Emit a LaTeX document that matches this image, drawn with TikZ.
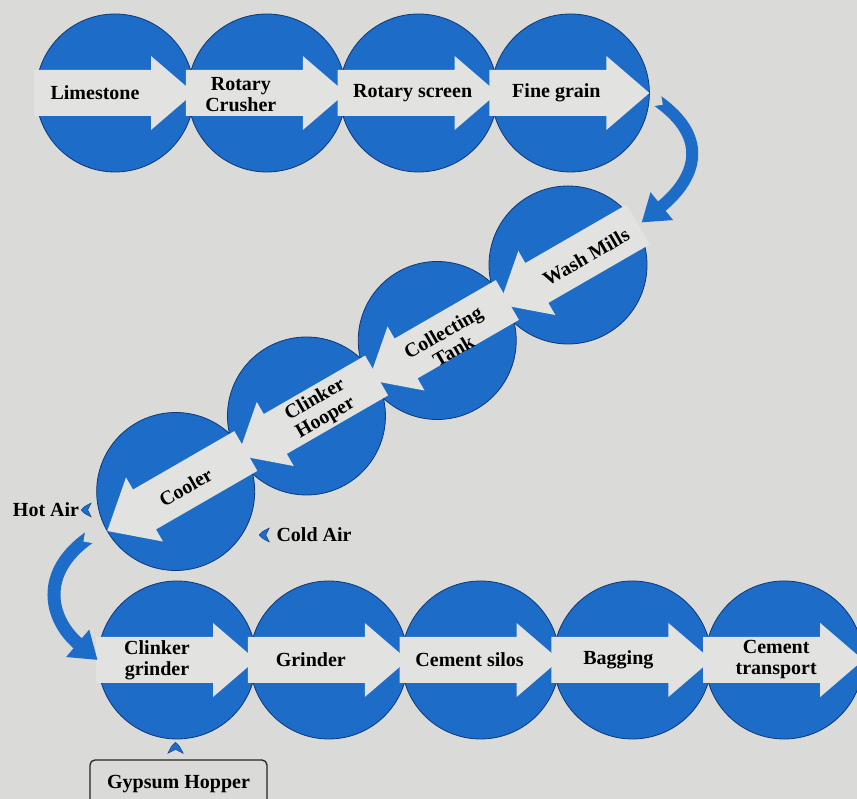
\documentclass[tikz,border=0pt]{standalone}
\usepackage{fontspec}
\setmainfont{Liberation Serif}
\usepackage{tikz}
\usetikzlibrary{arrows.meta,positioning,calc}

\definecolor{cblue}{RGB}{28,108,200}
\definecolor{cdark}{RGB}{14,56,120}
\definecolor{paper}{RGB}{218,218,216}
\definecolor{bandgray}{RGB}{226,226,224}

\newcommand{\stagefont}{\fontsize{20}{21}\selectfont\bfseries}

\tikzset{
  stage/.style={circle,fill=cblue,draw=cdark,line width=0.8pt,minimum size=158pt,inner sep=0pt},
  lbl/.style={font=\stagefont,align=center,inner sep=1pt},
  bendarrow/.style={draw=cblue,line width=12pt,-{Triangle[width=34pt,length=26pt]}},
  pics/flow/.style={code={
    \fill[bandgray] (-81,-23) -- (36,-23) -- (36,-37) -- (79,0) -- (36,37) -- (36,23) -- (-81,23) -- cycle;
  }},
  pics/chevron/.style={code={
    \fill[cblue,draw=cdark,line width=0.4pt] (0,0) .. controls (3,3.5) .. (10,7) -- (6.5,0) -- (10,-7) .. controls (3,-3.5) .. cycle;
  }},
}

\begin{document}
\begin{tikzpicture}[x=1pt,y=1pt]
    \useasboundingbox (0,0) rectangle (857,799);
    \clip (0,0) rectangle (857,799);
    \fill[paper] (0,0) rectangle (857,799);

    % top row
    \node[stage] (lime) at (115,706) {};
    \node[stage] (crush) [right=-7pt of lime] {};
    \node[stage] (screen) [right=-7pt of crush] {};
    \node[stage] (fine) [right=-7pt of screen] {};

    % diagonal
    \node[stage] (wash) at (568,534) {};
    \node[stage] (tank) at ($(wash)+(210:151)$) {};
    \node[stage] (hopper) at ($(tank)+(210:151)$) {};
    \node[stage] (cooler) at ($(hopper)+(210:151)$) {};

    % bottom row
    \node[stage] (cgrind) at (177,139) {};
    \node[stage] (grind) [right=-7pt of cgrind] {};
    \node[stage] (silos) [right=-7pt of grind] {};
    \node[stage] (bag) [right=-7pt of silos] {};
    \node[stage] (trans) [right=-7pt of bag] {};

    % arrows in the circles
    \foreach \n in {lime,crush,screen,fine,cgrind,grind,silos,bag,trans}
        \pic at (\n) {flow};
    \foreach \n in {wash,tank,hopper,cooler}
        \pic[rotate=210] at (\n) {flow};

    % labels
    \node[lbl] (tlime) at ($(lime)+(-20,0)$) {Limestone};
    \node[lbl] (tcrush) at ($(crush)+(-26,-2)$) {Rotary\\Crusher};
    \node[lbl] (tscreen) at ($(screen)+(-6,0)$) {Rotary screen};
    \node[lbl] (tfine) at ($(fine)+(-14,0)$) {Fine grain};
    \node[lbl,rotate=30] (twash) at ($(wash)+(18,8)$) {Wash Mills};
    \node[lbl,rotate=30] (ttank) at ($(tank)+(11,-1)$) {Collecting\\Tank};
    \node[lbl,rotate=30] (thopper) at ($(hopper)+(14,7)$) {Clinker\\Hooper};
    \node[lbl,rotate=30] (tcooler) at ($(cooler)+(10,4)$) {Cooler};
    \node[lbl] (tcgrind) at ($(cgrind)+(-20,0)$) {Clinker\\grinder};
    \node[lbl] (tgrind) at ($(grind)+(-18,0)$) {Grinder};
    \node[lbl] (tsilos) at ($(silos)+(-11,0)$) {Cement silos};
    \node[lbl] (tbag) at ($(bag)+(-14,0)$) {Bagging};
    \node[lbl] (ttrans) at ($(trans)+(-8,0)$) {Cement\\transport};

    % bends between the rows
    \coordinate (b1s) at ($(fine)+(-5:87)$);
    \coordinate (b1e) at ($(wash)+(30:85)$);
    \draw[bendarrow] (b1s) to[out=-35,in=39,looseness=1.4] (b1e);
    \fill[paper] ($(b1s)+(-35:7)$) -- ($(b1s)+(55:9)+(145:2)$) -- ($(b1s)+(-125:9)+(145:2)$) -- cycle;

    \coordinate (b2s) at ($(cooler)+(208:98)$);
    \coordinate (b2e) at (cgrind.west);
    \draw[bendarrow,line width=13pt] (b2s) to[out=215,in=140,looseness=1.3] (b2e);
    \fill[paper] ($(b2s)+(215:7)$) -- ($(b2s)+(305:9)+(35:2)$) -- ($(b2s)+(125:9)+(35:2)$) -- cycle;

    % air
    \node[lbl] (hot) at (46,289) {Hot Air};
    \pic at ($(hot.east)+(1,0)$) {chevron};
    \node[lbl] (cold) at (314,264) {Cold Air};
    \pic at ($(cold.west)+(-16,0)$) {chevron};

    % gypsum
    \node[lbl,draw=black!85,line width=1.3pt,rounded corners=5pt,fill=paper,
          minimum width=177pt,text height=20pt,text depth=30pt,inner ysep=9pt,anchor=base]
          (gyp) at (178.5,10) {Gypsum Hopper};
    \pic[rotate=-90,scale=1.1] at ($(gyp.north)+(-3,17)$) {chevron};
\end{tikzpicture}
\end{document}
